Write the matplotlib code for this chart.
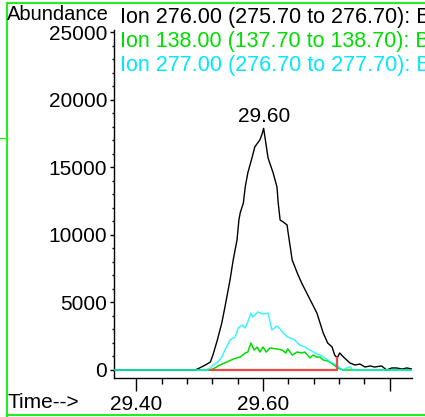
import matplotlib
matplotlib.use('Agg')
import numpy as np
import matplotlib.pyplot as plt
from matplotlib.ticker import FixedLocator
from matplotlib.lines import Line2D

plt.rcParams['font.family'] = ['Liberation Sans', 'DejaVu Sans']

# Ion 276.00 trace (black)
black_t = [29.365, 29.493, 29.500, 29.509, 29.517, 29.521, 29.528, 29.535, 29.540, 29.548,
           29.553, 29.559, 29.562, 29.564, 29.569, 29.572, 29.576, 29.583, 29.587, 29.595,
           29.598, 29.601, 29.608, 29.616, 29.622, 29.624, 29.627, 29.632, 29.638, 29.639,
           29.643, 29.646, 29.654, 29.661, 29.669, 29.677, 29.685, 29.690, 29.695, 29.702,
           29.709, 29.713, 29.717, 29.721, 29.726, 29.732, 29.737, 29.745, 29.753, 29.761,
           29.769, 29.776, 29.787, 29.795, 29.803, 29.811, 29.819, 29.827, 29.835]
black_y = [0, 0, 150, 370, 590, 1110, 2220, 3480, 4670, 6670,
           8150, 9630, 11110, 11630, 12370, 13560, 14590, 15780, 16520, 17040,
           17400, 17900, 15700, 14600, 13560, 12370, 11110, 10960, 10740, 10370,
           9110, 8150, 7190, 6440, 5700, 4960, 4220, 3480, 2740, 2000,
           1700, 1110, 890, 1260, 1000, 740, 520, 370, 440, 220,
           300, 220, 300, 0, 150, 150, 70, 150, 70]

# Ion 138.00 trace (green)
green_t = [29.365, 29.517, 29.524, 29.532, 29.543, 29.553, 29.564, 29.572, 29.576, 29.581,
           29.586, 29.591, 29.595, 29.600, 29.605, 29.611, 29.622, 29.630, 29.636, 29.639,
           29.646, 29.654, 29.661, 29.666, 29.674, 29.679, 29.685, 29.690, 29.695, 29.702,
           29.710, 29.718, 29.726, 29.835]
green_y = [0, 0, 150, 370, 590, 810, 960, 1260, 1330, 2000,
           1480, 1700, 1330, 1700, 1330, 1630, 1560, 1480, 1260, 1560,
           1110, 1330, 1260, 1330, 890, 1110, 960, 960, 740, 670,
           440, 150, 0, 0]

# Ion 277.00 trace (cyan)
cyan_t = [29.365, 29.509, 29.517, 29.521, 29.529, 29.535, 29.540, 29.548, 29.556, 29.561,
          29.567, 29.572, 29.576, 29.581, 29.584, 29.592, 29.600, 29.608, 29.614, 29.622,
          29.627, 29.632, 29.639, 29.650, 29.658, 29.666, 29.674, 29.682, 29.690, 29.698,
          29.706, 29.717, 29.721, 29.726, 29.732, 29.737, 29.742, 29.835]
cyan_y = [0, 0, 150, 370, 590, 960, 1480, 2220, 2440, 3110,
          3330, 3110, 3560, 4220, 3930, 4300, 4150, 4220, 2960, 3260,
          3040, 2740, 2440, 2220, 1850, 1700, 1480, 1260, 1110, 890,
          590, 370, 150, 0, 150, 220, 0, 0]

# integration baseline (red)
red_t = [29.517, 29.717, 29.717]
red_y = [0, 0, 890]

ion_labels = ['Ion 276.00 (275.70 to 276.70): B',
              'Ion 138.00 (137.70 to 138.70): B',
              'Ion 277.00 (276.70 to 277.70): B']
ion_colors = ['black', '#00dd00', '#00e8ff']

FS = 15
W, H = 425, 417
fig = plt.figure(figsize=(W / 100, H / 100), dpi=100)
fig.patch.set_facecolor('white')

ax = fig.add_axes([114 / W, 39 / H, 298 / W, 348 / H])
ax.plot(black_t, black_y, color='black', lw=1.0, zorder=2)
ax.plot(green_t, green_y, color='#00dd00', lw=1.1, zorder=3)
ax.plot(cyan_t, cyan_y, color='#00eeff', lw=1.1, alpha=0.75, zorder=4)
ax.plot(red_t, red_y, color='#f04848', lw=1.6, zorder=5)

ax.set_xlim(29.365, 29.835)
ax.set_ylim(-593, 25185)

for s in ['top', 'right']:
    ax.spines[s].set_visible(False)
ax.spines['left'].set_linewidth(1.0)
ax.spines['bottom'].set_linewidth(1.0)

ax.xaxis.set_major_locator(FixedLocator([29.4, 29.6, 29.8]))
ax.set_xticklabels(['29.40', '29.60', ''])
ax.xaxis.set_minor_locator(FixedLocator([29.44, 29.48, 29.52, 29.56, 29.64, 29.68, 29.72, 29.76]))
ax.yaxis.set_major_locator(FixedLocator(range(0, 25001, 5000)))
ax.yaxis.set_minor_locator(FixedLocator([v for v in range(1000, 25000, 1000) if v % 5000]))

ax.tick_params(axis='x', which='major', direction='out', length=9, width=1, labelsize=FS, pad=3)
ax.tick_params(axis='x', which='minor', direction='out', length=4.5, width=1)
ax.tick_params(axis='y', which='major', direction='out', length=3, width=1, labelsize=FS, pad=2)
ax.tick_params(axis='y', which='minor', direction='out', length=1.5, width=1)

# peak label
i = int(np.argmax(black_y))
ax.annotate(f'{black_t[i]:.2f}', xy=(black_t[i], black_y[i]), xytext=(0, 2),
            textcoords='offset points', ha='center', va='bottom', fontsize=FS)

# header texts
fig.text(7 / W, 1 - 15 / H, 'Abundance', ha='left', va='center', fontsize=14.5)
for k, (lab, col) in enumerate(zip(ion_labels, ion_colors)):
    fig.text(120 / W, 1 - (18 + 23.5 * k) / H, lab, ha='left', va='center',
             fontsize=15.5, color=col)
fig.text(8 / W, 1 - 403 / H, 'Time-->', ha='left', va='center', fontsize=FS)

# green frame
gc = '#22ee22'
fig.add_artist(Line2D([7 / W, 7 / W], [0, 1 - 3 / H], color=gc, lw=1.5, transform=fig.transFigure))
fig.add_artist(Line2D([7 / W, 1], [1 - 3 / H, 1 - 3 / H], color=gc, lw=1.5, transform=fig.transFigure))
fig.add_artist(Line2D([7 / W, 1], [1 - 415 / H, 1 - 415 / H], color=gc, lw=1.5, transform=fig.transFigure))
fig.add_artist(Line2D([0, 7 / W], [1 - 138 / H, 1 - 138 / H], color=gc, lw=1.0, transform=fig.transFigure))

fig.savefig('out.png', dpi=100)
